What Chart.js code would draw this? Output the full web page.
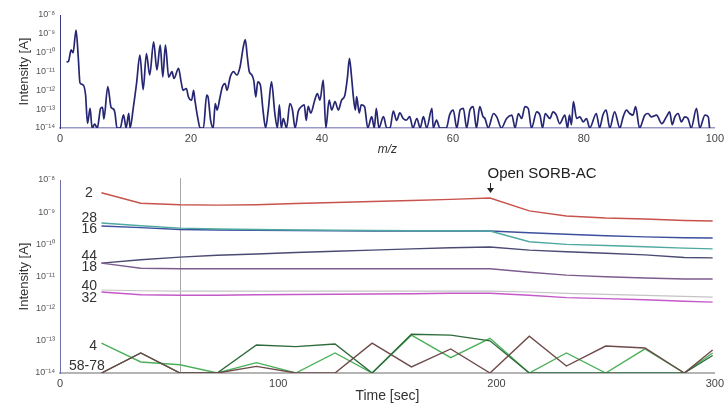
<!DOCTYPE html>
<html>
<head>
<meta charset="utf-8">
<script src="https://cdn.jsdelivr.net/npm/chart.js@4.4.0/dist/chart.umd.min.js"></script>
<style>
  html, body { margin: 0; padding: 0; background: #fff; }
  #wrap { position: relative; width: 728px; height: 406px; }
  #spec { position: absolute; left: 0; top: 0; }
  #trend { position: absolute; left: 0; top: 160px; }
</style>
</head>
<body>
<div id="wrap">
  <canvas id="spec" width="728" height="160"></canvas>
  <canvas id="trend" width="728" height="246"></canvas>
</div>
<script>
// ---- mass spectrum (top): [m/z, intensity A] ----
const spectrum = [
  [1.0,3.2e-11],[1.3,3.5e-11],[1.7,1.4e-10],[2.0,1.0e-10],[2.45,1.6e-9],[2.8,5e-11],[3.05,2.5e-12],[3.5,2e-12],
  [3.9,6e-13],[4.2,1.8e-14],[4.6,1.1e-13],[4.9,1e-14],[5.3,1.6e-14],[5.7,1e-14],[6.2,1.1e-13],[6.5,1.25e-13],
  [6.7,3e-14],[7.3,1.6e-12],[7.8,1.25e-13],[8.2,1e-13],[8.4,6e-14],[8.7,1e-14],[9.2,1e-14],[9.7,5e-14],
  [10.1,1e-14],[10.5,6e-14],[10.7,1e-14],[11.2,1.25e-13],[11.7,2.5e-12],[12.2,7.4e-11],[12.7,1.1e-12],[13.2,9e-11],
  [13.7,6.5e-12],[14.3,3.8e-10],[14.8,1.2e-11],[15.3,2.5e-10],[15.7,5.2e-12],[16.1,2.5e-10],[16.6,5e-12],[17.1,9.8e-12],
  [17.4,4.3e-12],[18.1,1.45e-11],[18.5,2.8e-12],[18.8,1e-12],[19.3,1.25e-12],[19.6,4.6e-13],[20.1,3e-13],[20.4,1e-12],
  [20.6,3e-13],[21.1,2.6e-14],[21.4,1e-14],[21.9,1e-14],[22.4,5.5e-13],[22.6,4.6e-13],[23.0,2.6e-14],[23.4,1e-14],
  [23.7,2e-13],[24.0,9e-14],[24.4,3.7e-13],[24.8,1.55e-12],[25.2,2.3e-12],[25.5,1e-12],[26.0,5.2e-12],[26.5,9.8e-12],
  [27.0,6.5e-12],[27.5,1.8e-11],[28.0,2.1e-10],[28.3,5e-10],[28.6,6.3e-11],[28.9,1e-11],[29.3,6.5e-12],[29.6,3.2e-12],
  [29.9,4.5e-13],[30.2,2.8e-12],[30.6,1.9e-12],[31.0,9e-14],[31.4,1e-14],[31.8,9e-14],[32.3,2.8e-12],[32.8,6.3e-14],
  [33.2,1e-14],[33.5,1.7e-13],[33.8,1e-14],[34.1,3.2e-14],[34.6,1e-14],[35.1,2e-13],[35.5,9e-14],[35.9,1e-14],
  [36.4,8e-14],[36.9,1.4e-13],[37.3,1.7e-13],[37.6,2.5e-14],[37.9,1.4e-13],[38.3,6.3e-14],[38.9,3e-13],[39.3,6.8e-13],
  [39.7,3e-13],[40.2,3.5e-12],[40.6,1e-14],[41.1,3e-13],[41.5,9e-14],[42.0,2.5e-13],[42.5,9e-14],[43.0,3e-13],
  [43.5,5.5e-13],[43.9,5e-12],[44.2,5e-11],[44.5,6.3e-12],[44.8,4.6e-13],[45.1,9e-14],[45.3,4.6e-13],[45.7,6.3e-14],
  [46.0,1.7e-13],[46.5,1.4e-13],[47.0,1e-14],[47.6,4e-14],[48.0,1e-14],[48.3,1.1e-13],[48.7,1e-14],[49.4,4e-14],
  [49.9,1e-14],[50.4,1e-14],[50.9,8e-14],[51.4,2.5e-14],[51.9,6.3e-14],[52.4,3.2e-14],[52.9,2.6e-14],[53.4,4e-14],
  [53.9,1e-14],[54.5,3.2e-14],[55.0,1e-14],[55.5,4e-14],[56.0,1e-14],[56.8,1.1e-13],[57.0,1e-14],[57.5,2.6e-14],
  [58.0,1e-14],[58.5,1e-14],[59.0,1e-14],[59.5,5e-14],[60.05,9e-14],[60.6,1e-14],[61.1,9e-14],[61.6,1.1e-13],
  [62.1,1e-14],[62.6,9e-14],[63.1,1.35e-13],[63.6,1e-14],[64.1,1.35e-13],[64.6,4e-14],[64.9,3.2e-14],[65.4,1e-14],
  [66.2,5.9e-14],[66.7,3.9e-14],[67.4,1e-14],[68.2,3.2e-14],[69.0,4.8e-14],[69.5,1e-14],[70.0,5.9e-14],[70.5,3.2e-14],
  [71.0,1.35e-13],[71.5,1.1e-13],[72.0,1e-14],[72.8,7.2e-14],[73.3,4.8e-14],[73.7,1e-14],[74.1,5.9e-14],[74.8,3.2e-14],
  [75.3,7.2e-14],[75.8,4.8e-14],[76.3,1.7e-14],[77.1,4.8e-14],[77.5,1e-14],[77.8,4.8e-14],[78.1,1.5e-14],[78.4,2.5e-13],
  [78.9,3.2e-14],[79.4,3.9e-14],[79.9,2.1e-14],[80.4,3.2e-14],[80.9,1e-14],[81.9,5.9e-14],[82.4,1e-14],[82.9,4.8e-14],
  [83.4,8.9e-14],[83.96,1e-14],[84.7,7.2e-14],[85.5,1e-14],[86.0,3.9e-14],[86.5,8.9e-14],[87.0,5.9e-14],[87.5,4.8e-14],
  [87.9,1.35e-13],[88.5,1e-14],[89.3,4.8e-14],[89.8,5.9e-14],[90.3,3.9e-14],[91.1,4.8e-14],[91.9,1.7e-14],[92.6,3.9e-14],
  [93.1,7.2e-14],[93.5,1.5e-14],[93.9,3.9e-14],[94.4,5.9e-14],[94.9,2.1e-14],[95.4,3.9e-14],[95.9,3.2e-14],[96.4,1e-14],
  [97.2,1.1e-13],[97.7,1e-14],[98.5,4.8e-14],[99.0,3.9e-14],[99.2,1e-14]
];

// ---- time trend (bottom) ----
const times = [19, 37, 55, 72, 90, 108, 126, 143, 161, 179, 197, 215, 232, 250, 268, 286, 299];

const m2  = [4.0e-9, 1.9e-9, 1.7e-9, 1.65e-9, 1.7e-9, 1.85e-9, 2.0e-9, 2.15e-9, 2.3e-9, 2.5e-9, 2.75e-9, 1.1e-9, 7.6e-10, 6.6e-10, 6.1e-10, 5.5e-10, 5.3e-10];
const m28 = [4.6e-10, 3.8e-10, 3.2e-10, 3.0e-10, 2.9e-10, 2.8e-10, 2.75e-10, 2.7e-10, 2.65e-10, 2.65e-10, 2.6e-10, 1.2e-10, 1.0e-10, 9.2e-11, 8.4e-11, 7.6e-11, 7.2e-11];
const m16 = [3.7e-10, 3.3e-10, 2.9e-10, 2.8e-10, 2.75e-10, 2.7e-10, 2.65e-10, 2.6e-10, 2.6e-10, 2.6e-10, 2.6e-10, 2.3e-10, 2.05e-10, 1.85e-10, 1.7e-10, 1.6e-10, 1.58e-10];
const m44 = [2.6e-11, 3.3e-11, 4.0e-11, 4.6e-11, 5.0e-11, 5.6e-11, 6.1e-11, 6.6e-11, 7.2e-11, 7.8e-11, 8.3e-11, 6.6e-11, 5.9e-11, 5.3e-11, 4.7e-11, 3.9e-11, 3.8e-11];
const m18 = [2.6e-11, 1.8e-11, 1.75e-11, 1.75e-11, 1.75e-11, 1.75e-11, 1.75e-11, 1.75e-11, 1.75e-11, 1.75e-11, 1.75e-11, 1.35e-11, 1.1e-11, 9.8e-12, 9.0e-12, 8.4e-12, 8.4e-12];
const m40 = [3.8e-12, 3.6e-12, 3.5e-12, 3.5e-12, 3.5e-12, 3.5e-12, 3.5e-12, 3.5e-12, 3.5e-12, 3.5e-12, 3.5e-12, 3.3e-12, 3.0e-12, 2.8e-12, 2.6e-12, 2.4e-12, 2.3e-12];
const m32 = [3.3e-12, 2.7e-12, 2.6e-12, 2.6e-12, 2.7e-12, 2.75e-12, 2.8e-12, 2.85e-12, 2.9e-12, 3.0e-12, 3.0e-12, 2.6e-12, 2.2e-12, 2.05e-12, 1.9e-12, 1.7e-12, 1.6e-12];
const m4  = [8.5e-14, 2.2e-14, 1.8e-14, 1e-14, 2.1e-14, 1e-14, 4.2e-14, 1e-14, 1.5e-13, 3e-14, 1.2e-13, 1e-14, 4.2e-14, 1e-14, 5.6e-14, 1e-14, 4.2e-14];
const mHiA = [1e-14, 4.2e-14, 1e-14, 1e-14, 7.4e-14, 6.6e-14, 8e-14, 1e-14, 1.6e-13, 1.5e-13, 1e-13, 1e-14, 1e-14, 1e-14, 1e-14, 1e-14, 3.5e-14];
const mHiB = [1e-14, 4.2e-14, 1e-14, 1e-14, 1.6e-14, 1e-14, 1e-14, 8.5e-14, 1.55e-14, 5.6e-14, 1e-14, 1.4e-13, 1.65e-14, 6.9e-14, 6e-14, 1e-14, 5.2e-14];

// mass labels at the left end of the traces
const labelTexts  = ['2', '28', '16', '44', '18', '40', '32', '4', '58-78'];
const labelLevels = [4.0e-9, 6.7e-10, 2.9e-10, 4.4e-11, 2.0e-11, 5e-12, 2.2e-12, 6.9e-14, 1.66e-14];
const labelTimes  = [15, 17, 17, 17, 17, 17, 17, 17, 20.5];

const cursorTime = 55;
const markerTime = 197;
const markerLevel = 2.75e-9;
const markerText = 'Open SORB-AC';

Chart.defaults.font.family = '"Liberation Sans", Arial, sans-serif';
Chart.defaults.color = '#444';

const SUP = {'-': '\u207B', '0': '\u2070', '1': '\u00B9', '2': '\u00B2', '3': '\u00B3', '4': '\u2074',
             '5': '\u2075', '6': '\u2076', '7': '\u2077', '8': '\u2078', '9': '\u2079'};
function powLabel(v) {
  const l = Math.log10(v);
  const e = Math.round(l);
  if (Math.abs(l - e) > 1e-6) return null;
  return '10' + String(e).split('').map(c => SUP[c]).join('');
}

function logAxis(borderColor) {
  return {
    type: 'logarithmic',
    min: 1e-14,
    max: 1e-8,
    afterFit: s => { s.width = 60; },
    grid: { display: true, drawOnChartArea: false, drawTicks: false },
    border: { color: borderColor, width: 1 },
    ticks: { autoSkip: false, padding: 5, font: { size: 9 }, color: '#555', callback: powLabel },
    title: { display: true, text: 'Intensity [A]', font: { size: 13 }, color: '#333', padding: { top: 17, bottom: 0 } }
  };
}

// ---- top chart ----
new Chart(document.getElementById('spec'), {
  type: 'line',
  data: {
    datasets: [{
      data: spectrum.map(p => ({ x: p[0], y: p[1] })),
      borderColor: '#262673',
      borderWidth: 1.7,
      pointRadius: 0,
      cubicInterpolationMode: 'monotone'
    }]
  },
  options: {
    responsive: false,
    animation: false,
    layout: { padding: { top: 15, right: 11, left: 0, bottom: 0 } },
    plugins: { legend: { display: false }, tooltip: { enabled: false } },
    scales: {
      x: {
        type: 'linear', min: 0, max: 100,
        afterFit: s => { s.height = 32; },
        grid: { display: true, drawOnChartArea: false, drawTicks: false },
        border: { color: '#9a9ac8', width: 1.5 },
        ticks: { stepSize: 20, padding: 4, font: { size: 11 }, color: '#444' },
        title: { display: true, text: 'm/z', font: { size: 12, style: 'italic' }, color: '#333', padding: { top: 0, bottom: 3 } }
      },
      y: logAxis('#3a3a7a')
    }
  }
});

// ---- bottom chart ----
const trendOverlay = {
  id: 'trendOverlay',
  beforeDatasetsDraw(chart) {
    const { ctx, chartArea, scales: { x } } = chart;
    const px = Math.round(x.getPixelForValue(cursorTime)) + 0.5;
    ctx.save();
    ctx.strokeStyle = '#a8a8a8';
    ctx.lineWidth = 1;
    ctx.beginPath();
    ctx.moveTo(px, chartArea.top - 2);
    ctx.lineTo(px, chartArea.bottom);
    ctx.stroke();
    ctx.restore();
  },
  afterDatasetsDraw(chart) {
    const { ctx, scales: { x, y } } = chart;
    ctx.save();
    ctx.fillStyle = '#333';
    ctx.font = '14px "Liberation Sans", Arial, sans-serif';
    ctx.textAlign = 'right';
    ctx.textBaseline = 'middle';
    labelTexts.forEach((t, i) => {
      ctx.fillText(t, x.getPixelForValue(labelTimes[i]), y.getPixelForValue(labelLevels[i]));
    });
    // event marker
    const mx = Math.round(x.getPixelForValue(markerTime)) + 0.5;
    const tip = y.getPixelForValue(markerLevel) - 5;
    ctx.textAlign = 'left';
    ctx.font = '15px "Liberation Sans", Arial, sans-serif';
    ctx.fillStyle = '#222';
    ctx.fillText(markerText, mx - 3, tip - 19);
    ctx.strokeStyle = '#222';
    ctx.lineWidth = 1;
    ctx.beginPath();
    ctx.moveTo(mx, tip - 10);
    ctx.lineTo(mx, tip - 3);
    ctx.stroke();
    ctx.beginPath();
    ctx.moveTo(mx - 3.5, tip - 5);
    ctx.lineTo(mx + 3.5, tip - 5);
    ctx.lineTo(mx, tip);
    ctx.closePath();
    ctx.fill();
    ctx.restore();
  }
};

function trace(values, color, width) {
  return {
    data: values.map((v, i) => ({ x: times[i], y: v })),
    borderColor: color,
    borderWidth: width || 1.4,
    pointRadius: 0,
    tension: 0
  };
}

new Chart(document.getElementById('trend'), {
  type: 'line',
  data: {
    datasets: [
      trace(m40, '#c4c4c4', 1.2),
      trace(m32, '#c45ac8'),
      trace(m18, '#7d5d8e'),
      trace(m44, '#4a4a72'),
      trace(m28, '#4fa9a0'),
      trace(m16, '#3b4f9e'),
      trace(m2, '#c8524c'),
      trace(mHiB, '#6e4a4a'),
      trace(mHiA, '#2f6b3c'),
      trace(m4, '#4cb05a')
    ]
  },
  options: {
    responsive: false,
    animation: false,
    layout: { padding: { top: 20, right: 11, left: 0, bottom: 0 } },
    plugins: { legend: { display: false }, tooltip: { enabled: false } },
    scales: {
      x: {
        type: 'linear', min: 0, max: 300,
        afterFit: s => { s.height = 33; },
        grid: { display: true, drawOnChartArea: false, drawTicks: false },
        border: { color: '#b4b4b4', width: 2 },
        ticks: { stepSize: 100, padding: 4, font: { size: 11 }, color: '#444' },
        title: { display: true, text: 'Time [sec]', font: { size: 14 }, color: '#333', padding: { top: 0, bottom: 1 } }
      },
      y: logAxis('#7070a8')
    }
  },
  plugins: [trendOverlay]
});
</script>
</body>
</html>
